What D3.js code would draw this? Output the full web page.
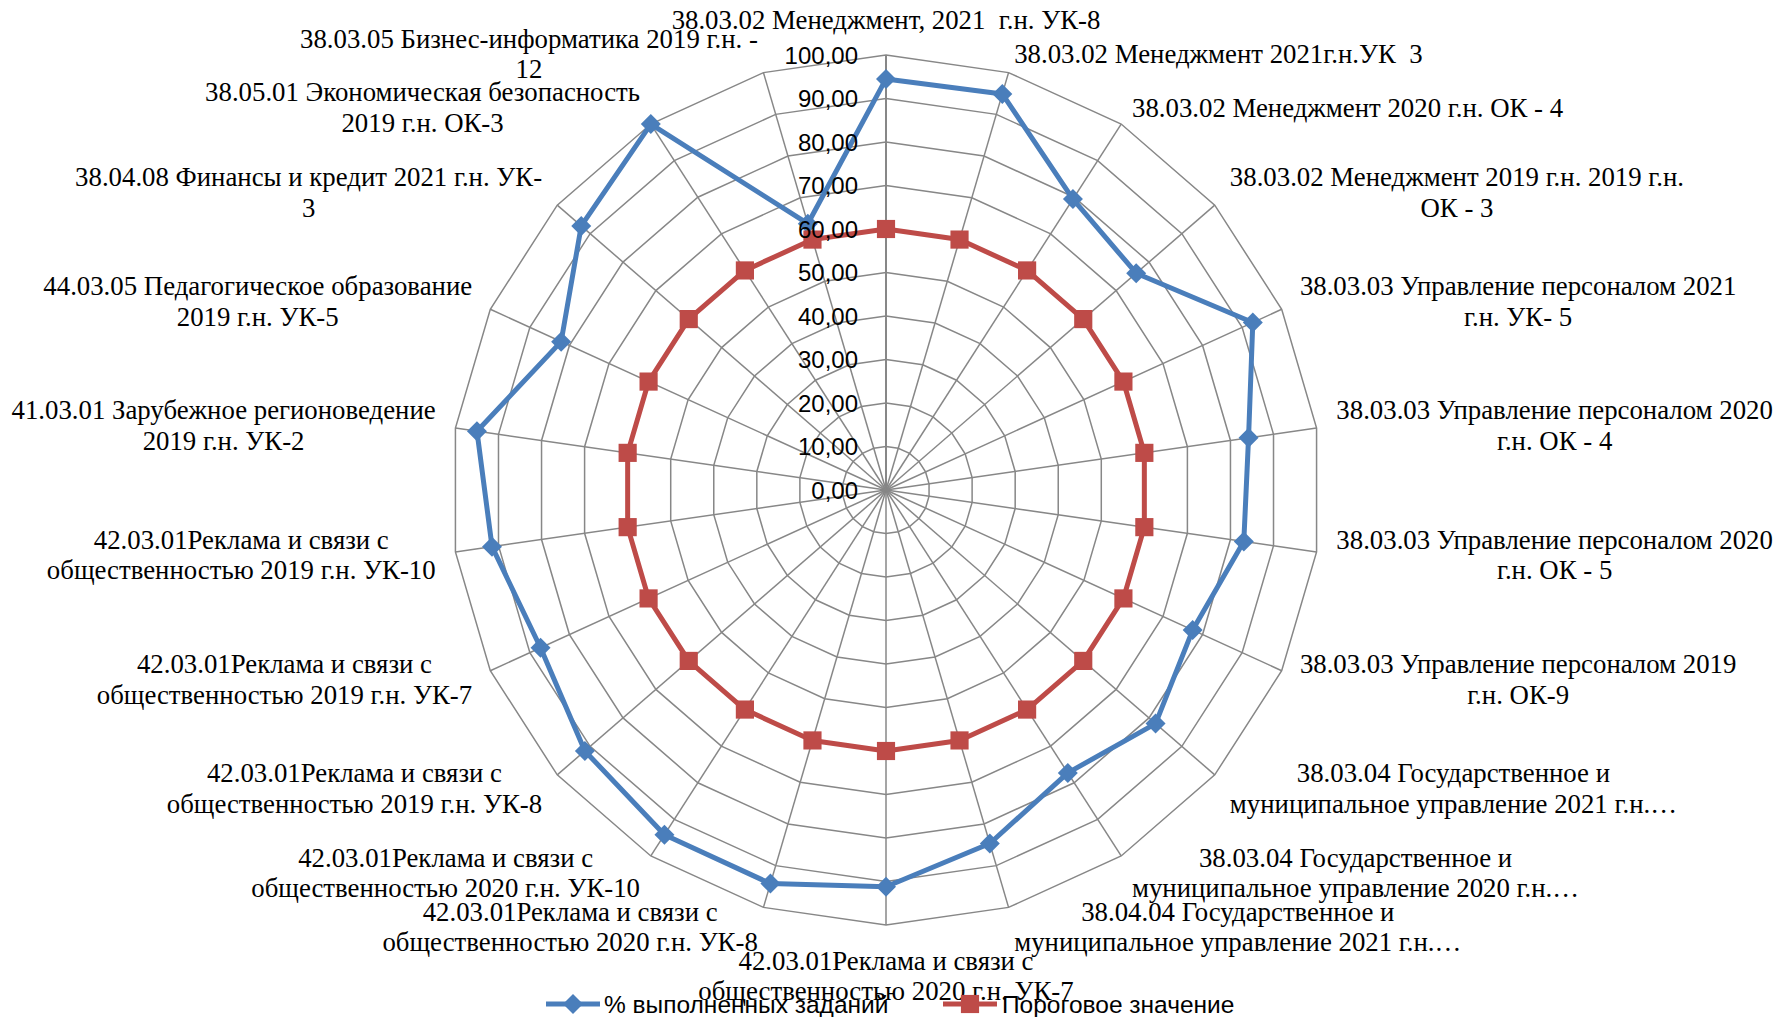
<!DOCTYPE html>
<html><head><meta charset="utf-8">
<script src="https://cdn.jsdelivr.net/npm/d3@7"></script>
<style>
html,body{margin:0;padding:0;background:#fff;}
svg{display:block;}
.cat{font-family:"Liberation Serif","Times New Roman",serif;font-size:26.8px;fill:#000;white-space:pre;}
.tick{font-family:"Liberation Sans",Arial,sans-serif;font-size:24px;fill:#000;}
.leg{font-family:"Liberation Sans",Arial,sans-serif;font-size:24.5px;fill:#000;}
</style></head>
<body>
<script>
const categories = [
  "38.03.02 Менеджмент, 2021  г.н. УК-8",
  "38.03.02 Менеджмент 2021г.н.УК  3",
  "38.03.02 Менеджмент 2020 г.н. ОК - 4",
  "38.03.02 Менеджмент 2019 г.н. 2019 г.н.\nОК - 3",
  "38.03.03 Управление персоналом 2021\nг.н. УК- 5",
  "38.03.03 Управление персоналом 2020\nг.н. ОК - 4",
  "38.03.03 Управление персоналом 2020\nг.н. ОК - 5",
  "38.03.03 Управление персоналом 2019\nг.н. ОК-9",
  "38.03.04 Государственное и\nмуниципальное управление 2021 г.н.…",
  "38.03.04 Государственное и\nмуниципальное управление 2020 г.н.…",
  "38.04.04 Государственное и\nмуниципальное управление 2021 г.н.…",
  "42.03.01Реклама и связи с\nобщественностью 2020 г.н. УК-7",
  "42.03.01Реклама и связи с\nобщественностью 2020 г.н. УК-8",
  "42.03.01Реклама и связи с\nобщественностью 2020 г.н. УК-10",
  "42.03.01Реклама и связи с\nобщественностью 2019 г.н. УК-8",
  "42.03.01Реклама и связи с\nобщественностью 2019 г.н. УК-7",
  "42.03.01Реклама и связи с\nобщественностью 2019 г.н. УК-10",
  "41.03.01 Зарубежное регионоведение\n2019 г.н. УК-2",
  "44.03.05 Педагогическое образование\n2019 г.н. УК-5",
  "38.04.08 Финансы и кредит 2021 г.н. УК-\n3",
  "38.05.01 Экономическая безопасность\n2019 г.н. ОК-3",
  "38.03.05 Бизнес-информатика 2019 г.н. -\n12"
];
const completed = [94.5, 94.9, 79.5, 76.1, 92.7, 84.2, 83.1, 77.5, 82.0, 77.3, 84.7,
                   91.2, 94.3, 94.2, 91.6, 87.3, 91.5, 95.0, 82.1, 92.7, 100.0, 63.8];
const threshold = [60, 60, 60, 60, 60, 60, 60, 60, 60, 60, 60,
                   60, 60, 60, 60, 60, 60, 60, 60, 60, 60, 60];
const tickValues = [0, 10, 20, 30, 40, 50, 60, 70, 80, 90, 100];
const seriesNames = ["% выполненных заданий", "Пороговое значение"];

const W = 1775, H = 1017;
const cx = 886, cy = 490, R = 435;
const blue = "#4A7EBB", red = "#BE4B48", gridColor = "#878787";

const svg = d3.select("body").append("svg").attr("width", W).attr("height", H);
const n = categories.length;
const r = d3.scaleLinear().domain([0, 100]).range([0, R]);
const ang = d3.scaleLinear().domain([0, n]).range([0, 2 * Math.PI]);
const g = svg.append("g").attr("transform", `translate(${cx},${cy})`);

// grid rings
const ringLine = d3.lineRadial().angle((d, i) => ang(i)).radius(d => r(d)).curve(d3.curveLinearClosed);
tickValues.filter(t => t > 0).forEach(t => {
  g.append("path").attr("d", ringLine(d3.range(n).map(() => t)))
    .attr("fill", "none").attr("stroke", gridColor).attr("stroke-width", 1.5);
});
// spokes
d3.range(n).forEach(i => {
  const a = ang(i);
  g.append("line").attr("x1", 0).attr("y1", 0)
    .attr("x2", r(100) * Math.sin(a)).attr("y2", -r(100) * Math.cos(a))
    .attr("stroke", gridColor).attr("stroke-width", i === 0 ? 2 : 1.5);
});

// series
const seriesLine = d3.lineRadial().angle((d, i) => ang(i)).radius(d => r(d)).curve(d3.curveLinearClosed);
function pt(v, i) { const a = ang(i); return [r(v) * Math.sin(a), -r(v) * Math.cos(a)]; }
const diamond = d3.symbol(d3.symbolSquare, 200);
const square = d3.symbol(d3.symbolSquare, 330);

g.append("path").attr("d", seriesLine(completed)).attr("fill", "none")
  .attr("stroke", blue).attr("stroke-width", 5).attr("stroke-linejoin", "round");
completed.forEach((v, i) => {
  const [x, y] = pt(v, i);
  g.append("path").attr("d", diamond()).attr("fill", blue)
    .attr("transform", `translate(${x},${y}) rotate(45)`);
});
g.append("path").attr("d", seriesLine(threshold)).attr("fill", "none")
  .attr("stroke", red).attr("stroke-width", 5).attr("stroke-linejoin", "round");
threshold.forEach((v, i) => {
  const [x, y] = pt(v, i);
  g.append("path").attr("d", square()).attr("fill", red)
    .attr("transform", `translate(${x},${y})`);
});

// tick labels
const fmt = v => d3.format(".2f")(v).replace(".", ",");
tickValues.forEach(t => {
  g.append("text").attr("class", "tick").attr("x", -28).attr("y", -r(t))
    .attr("dy", "0.36em").attr("text-anchor", "end").text(fmt(t));
});

// category labels
const LR = R + 20, LH = 30.5;
categories.forEach((c, i) => {
  const a = ang(i);
  const s = Math.sin(a), co = Math.cos(a);
  const ax = LR * s, ay = -LR * co;
  const lines = c.split("\n");
  const tg = g.append("g");
  const texts = lines.map(l => tg.append("text").attr("class", "cat").attr("text-anchor", "middle").text(l));
  const w = d3.max(texts, t => t.node().getComputedTextLength());
  let bx;
  if (Math.abs(s) < 0.01) bx = ax;
  else if (s > 0) bx = ax + w / 2;
  else bx = ax - w / 2;
  const h = lines.length * LH;
  let top;
  if (Math.abs(s) < 0.01 && co > 0) top = ay - h;
  else if (Math.abs(s) < 0.01) top = ay;
  else top = ay - h / 2;
  texts.forEach((t, k) => t.attr("x", bx).attr("y", top + LH * k + LH / 2).attr("dy", "0.35em"));
});

// legend
const ly = 1004;
const leg = svg.append("g");
leg.append("line").attr("x1", 546).attr("x2", 600).attr("y1", ly).attr("y2", ly)
  .attr("stroke", blue).attr("stroke-width", 5);
leg.append("path").attr("d", diamond()).attr("fill", blue).attr("transform", `translate(573,${ly}) rotate(45)`);
leg.append("text").attr("class", "leg").attr("x", 604).attr("y", ly).attr("dy", "0.35em").text(seriesNames[0]);
leg.append("line").attr("x1", 943).attr("x2", 997).attr("y1", ly).attr("y2", ly)
  .attr("stroke", red).attr("stroke-width", 5);
leg.append("path").attr("d", square()).attr("fill", red).attr("transform", `translate(970,${ly})`);
leg.append("text").attr("class", "leg").attr("x", 1002).attr("y", ly).attr("dy", "0.35em").text(seriesNames[1]);
</script>
</body></html>
